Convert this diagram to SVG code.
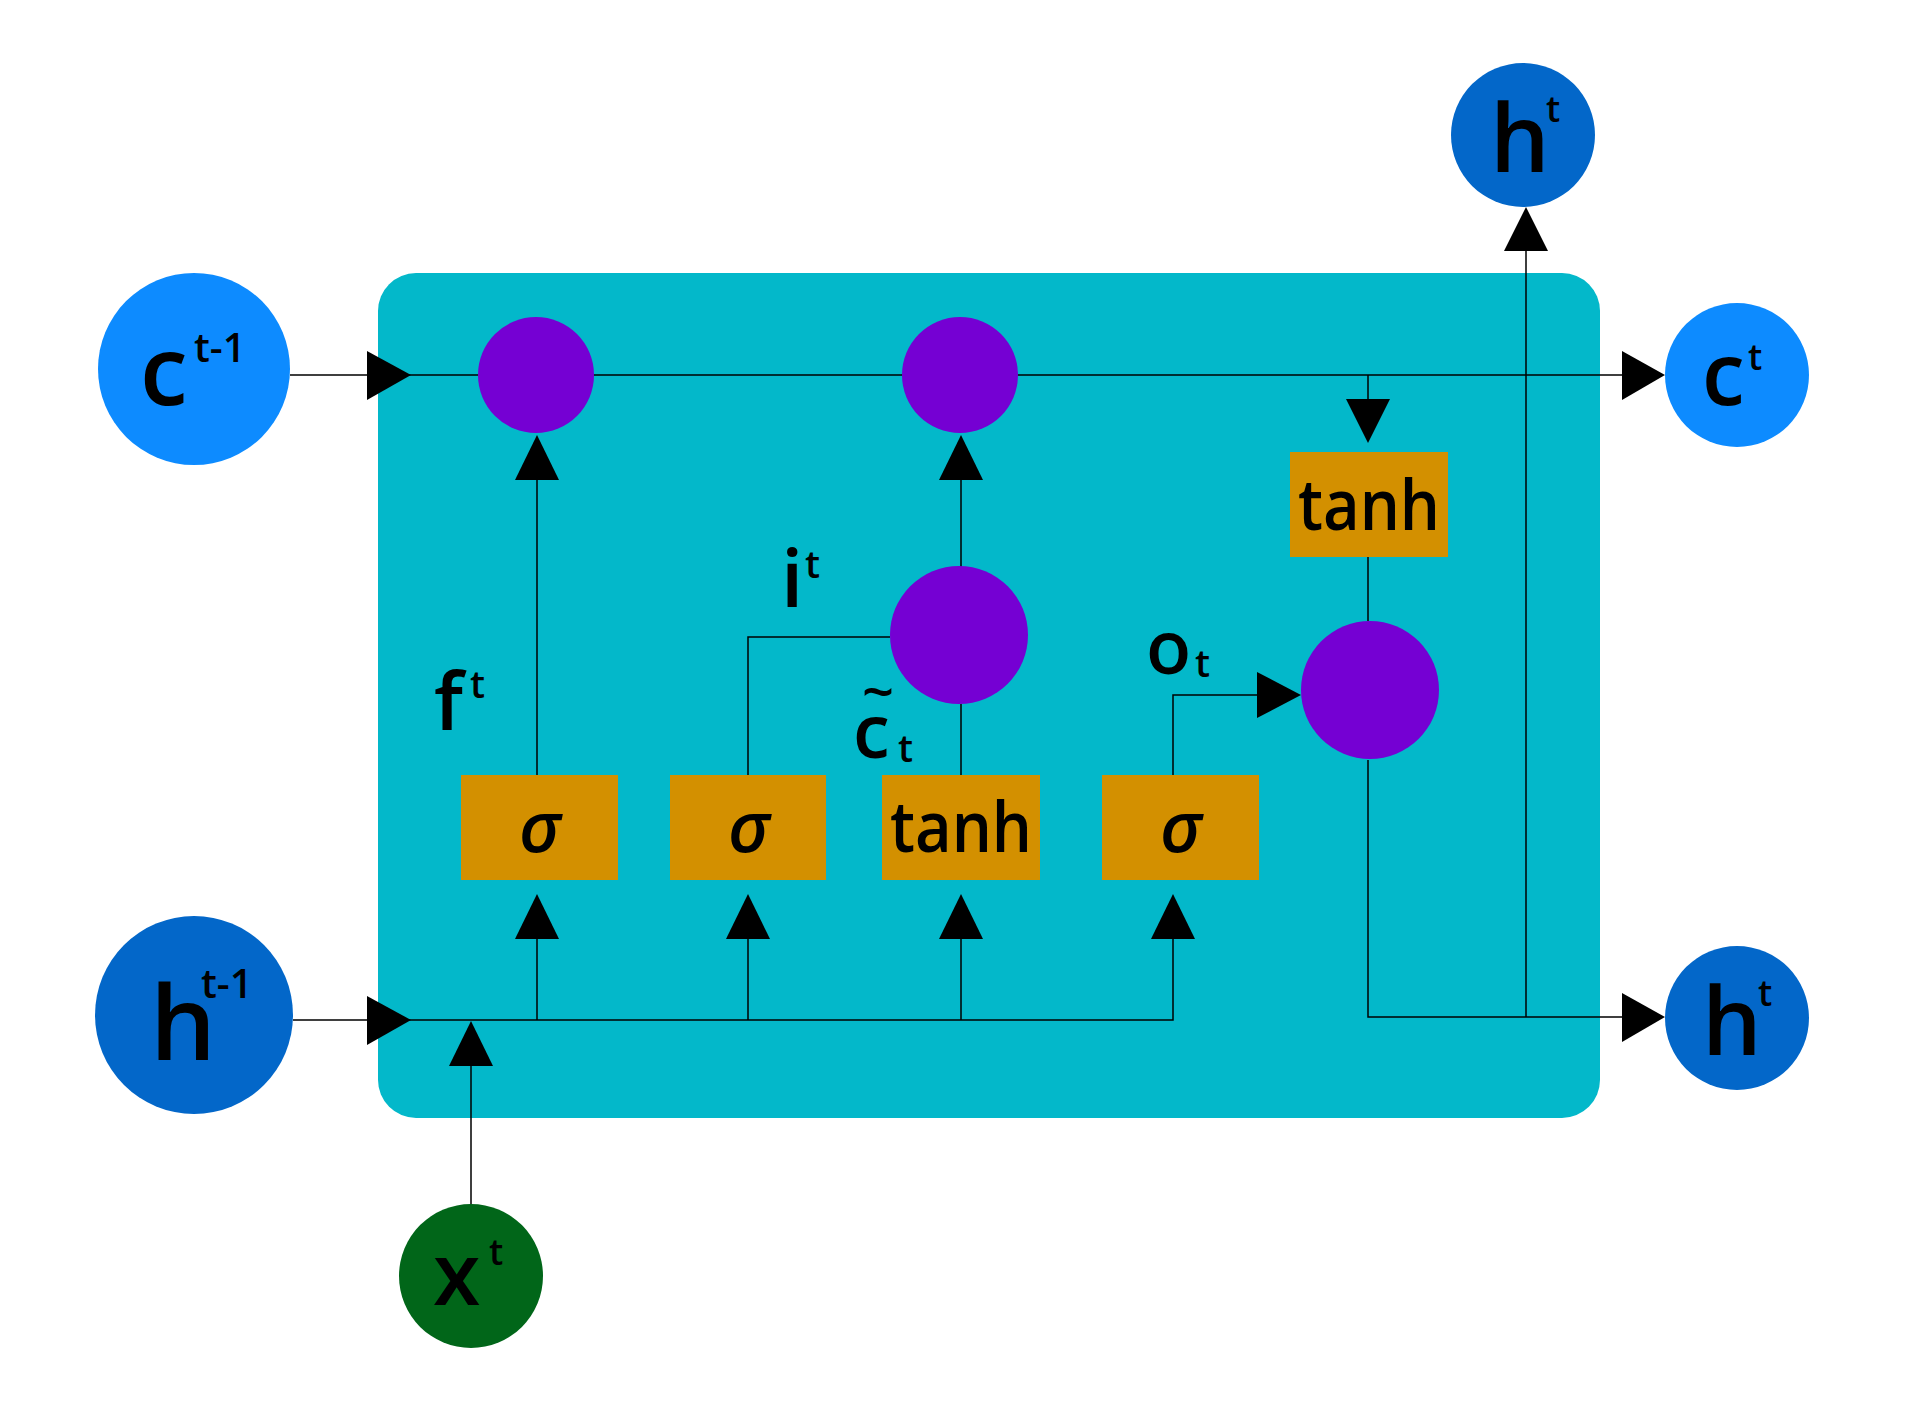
<svg xmlns="http://www.w3.org/2000/svg" width="1927" height="1426" viewBox="0 0 1927 1426">
<style>
.ln{stroke:#000;stroke-width:1.5;fill:none}
.ah{fill:#000}
.pu{fill:#7500D3}
.or{fill:#D39000}
.t{font-family:"Open Sans","Liberation Sans",sans-serif;fill:#000;font-weight:600}
</style>
<rect width="1927" height="1426" fill="#fff"/>
<rect id="cell" x="378" y="273" width="1222" height="845" rx="38" fill="#03B8CA"/>
<g id="connectors">
<path class="ln" d="M290 375H1625M293 1020H1173V939M471 1204V1066M537 1020V939M748 1020V939M961 1020V939M537 775V480M748 775V637H890M961 775V704M961 567V480M1173 775V695H1257M1368 375V400M1368 557V621M1368 760V1017H1625M1526 1017V251"/>
<polygon class="ah" points="367,351 411,375 367,400"/>
<polygon class="ah" points="367,996 411,1020 367,1045"/>
<polygon class="ah" points="1622,351 1665,375 1622,400"/>
<polygon class="ah" points="1622,993 1665,1017 1622,1042"/>
<polygon class="ah" points="449,1066 471,1021 493,1066"/>
<polygon class="ah" points="515,939 537,894 559,939"/>
<polygon class="ah" points="726,939 748,894 770,939"/>
<polygon class="ah" points="939,939 961,894 983,939"/>
<polygon class="ah" points="1151,939 1173,894 1195,939"/>
<polygon class="ah" points="515,480 537,435 559,480"/>
<polygon class="ah" points="939,480 961,435 983,480"/>
<polygon class="ah" points="1504,251 1526,207 1548,251"/>
<polygon class="ah" points="1346,399 1390,399 1368,443"/>
<polygon class="ah" points="1257,672 1301,695 1257,718"/>
</g>
<g id="c_prev"><circle cx="194" cy="369" r="96" fill="#0D8BFF"/><text class="t" x="140" y="405" font-size="96">c</text><text class="t" x="194" y="362" font-size="40">t-1</text></g>
<g id="h_prev"><circle cx="194" cy="1015" r="99" fill="#0367C9"/><text class="t" x="150" y="1060" font-size="104">h</text><text class="t" x="201" y="998" font-size="40">t-1</text></g>
<g id="x_t"><circle cx="471" cy="1276" r="72" fill="#016619"/><text class="t" x="433" y="1305" font-size="86">x</text><text class="t" x="489" y="1265" font-size="36">t</text></g>
<g id="h_top"><circle cx="1523" cy="135" r="72" fill="#0367C9"/><text class="t" x="1490" y="172" font-size="94">h</text><text class="t" x="1546" y="122" font-size="36">t</text></g>
<g id="c_t"><circle cx="1737" cy="375" r="72" fill="#0D8BFF"/><text class="t" x="1702" y="405" font-size="86">c</text><text class="t" x="1748" y="370" font-size="36">t</text></g>
<g id="h_t"><circle cx="1737" cy="1018" r="72" fill="#0367C9"/><text class="t" x="1702" y="1055" font-size="94">h</text><text class="t" x="1758" y="1006" font-size="36">t</text></g>
<g id="mul_f"><circle class="pu" cx="536" cy="375" r="58"/></g>
<g id="add_c"><circle class="pu" cx="960" cy="375" r="58"/></g>
<g id="mul_i"><circle class="pu" cx="959" cy="635" r="69"/></g>
<g id="mul_o"><circle class="pu" cx="1370" cy="690" r="69"/></g>
<g id="sig_f"><rect class="or" x="461" y="775" width="157" height="105"/><text class="t" x="540" y="852" font-size="70" font-style="italic" text-anchor="middle">σ</text></g>
<g id="sig_i"><rect class="or" x="670" y="775" width="156" height="105"/><text class="t" x="749" y="852" font-size="70" font-style="italic" text-anchor="middle">σ</text></g>
<g id="tanh_c"><rect class="or" x="882" y="775" width="158" height="105"/><text class="t" x="961" y="852" font-size="70" text-anchor="middle" textLength="142" lengthAdjust="spacingAndGlyphs">tanh</text></g>
<g id="sig_o"><rect class="or" x="1102" y="775" width="157" height="105"/><text class="t" x="1181" y="852" font-size="70" font-style="italic" text-anchor="middle">σ</text></g>
<g id="tanh_out"><rect class="or" x="1290" y="452" width="158" height="105"/><text class="t" x="1369" y="530" font-size="70" text-anchor="middle" textLength="142" lengthAdjust="spacingAndGlyphs">tanh</text></g>
<g id="labels">
<text class="t" x="434" y="730" font-size="80">f</text><text class="t" x="470" y="698" font-size="38">t</text>
<text class="t" x="781" y="607" font-size="80">i</text><text class="t" x="805" y="578" font-size="38">t</text>
<text class="t" x="1146" y="674" font-size="74">o</text><text class="t" x="1195" y="677" font-size="38">t</text>
<text class="t" x="853" y="758" font-size="74">c</text><text class="t" x="898" y="762" font-size="38">t</text>
<text class="t" x="862" y="712" font-size="56">~</text>
</g>
</svg>
